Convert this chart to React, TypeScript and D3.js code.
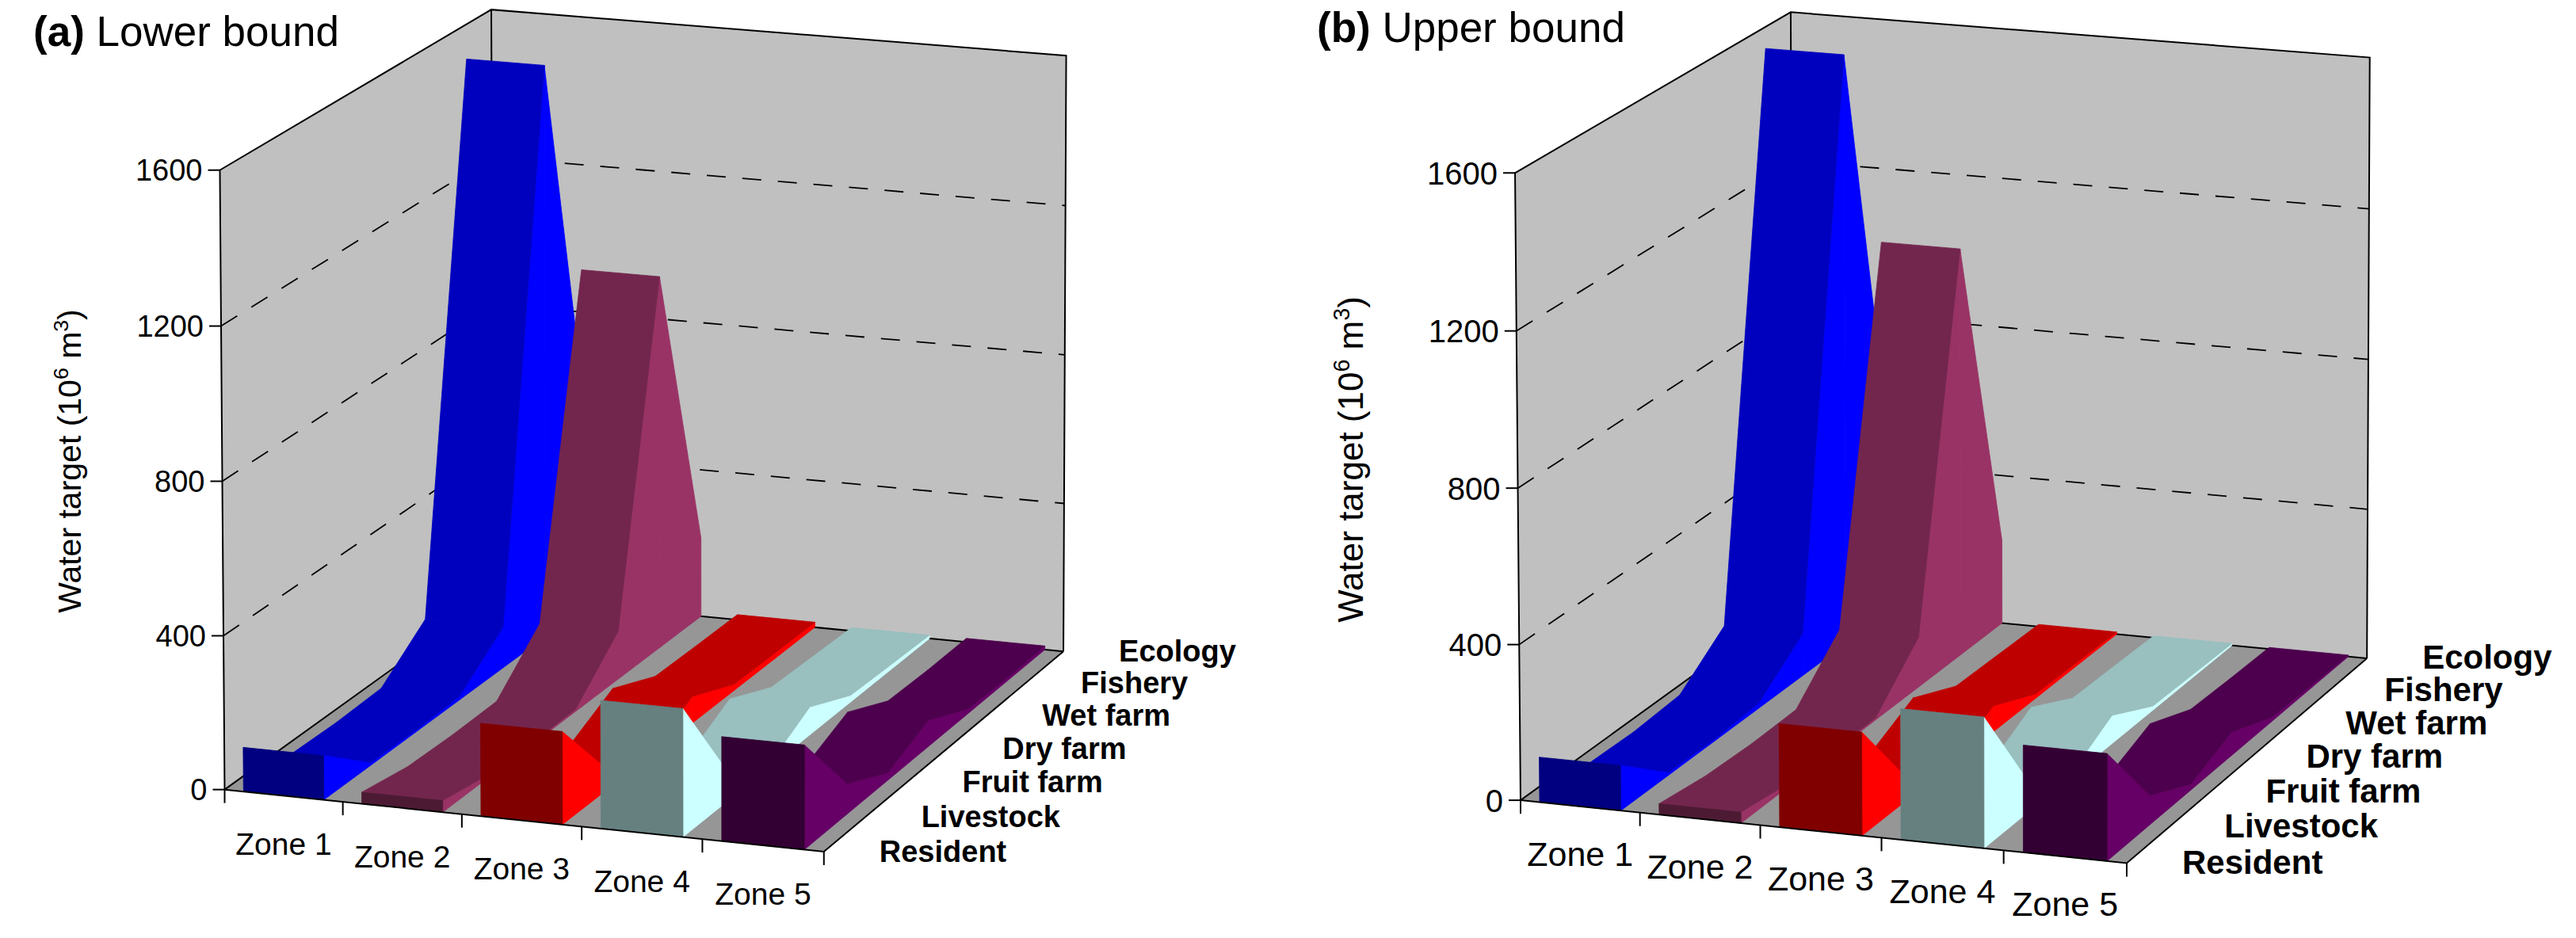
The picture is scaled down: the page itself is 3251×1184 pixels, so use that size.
import React, { useEffect, useMemo } from "react";
import * as d3 from "d3";

const zones = ["Zone 1", "Zone 2", "Zone 3", "Zone 4", "Zone 5"];
const sectors = ["Resident", "Livestock", "Fruit farm", "Dry farm", "Wet farm", "Fishery", "Ecology"];
const yTicks = [0, 400, 800, 1200, 1600];
const gridValues = [400, 800, 1200];

// water targets, one array per zone, sectors from Resident (front) to Ecology (back)
const lowerZone1 = [115, 8, 5, 10, 110, 1540, 480];
const lowerZone2 = [30, 8, 4, 6, 128, 1000, 214];
const lowerZone3 = [240, 55, 8, 71, 17, 15, 14];
const lowerZone4 = [330, 85, 8, 74, 18, 13, 9];
const lowerZone5 = [268, 80, 20, 70, 13, 9, 10];

const upperZone1 = [116, 8, 5, 14, 112, 1575, 500];
const upperZone2 = [28, 10, 4, 6, 132, 1085, 224];
const upperZone3 = [264, 58, 8, 68, 12, 9, 6];
const upperZone4 = [333, 83, 8, 74, 11, 8, 5];
const upperZone5 = [272, 76, 16, 62, 12, 7, 4];

const zoneColors = ["#0000ff", "#993366", "#ff0000", "#ccffff", "#660066"];

const W = 3251;
const H = 1184;
const FONT = "'Liberation Sans', Arial, Helvetica, sans-serif";
const FLOOR = "#969696";
const WALL = "#c0c0c0";

// box frame in normalized world coords (x: zones, y: value, z: depth) -> screen px
type Anchor = [number, number, number, number, number];
const leftFrame: Anchor[] = [
  [0, 0, 0, 283, 993], [1, 0, 0, 1042, 1078], [0, 0, 1, 622, 757], [1, 0, 1, 1341, 821],
  [0, 1, 0, 277, 216], [0, 1, 1, 622, 11], [1, 1, 1, 1344, 70],
  [0, 0.25, 0, 282, 803], [0, 0.5, 0, 280, 608], [0, 0.75, 0, 278, 413],
  [0.2, 0, 0, 432, 1010], [0.4, 0, 0, 583, 1027], [0.6, 0, 0, 735, 1043],
  [1, 0.25, 1, 1343, 635], [0, 0.75, 1, 622, 197],
];
const rightFrame: Anchor[] = [
  [0, 0, 0, 1920, 1008], [1, 0, 0, 2685, 1090], [0, 0, 1, 2262, 764], [1, 0, 1, 2987, 829],
  [0, 1, 0, 1911, 220], [0, 1, 1, 2262, 14], [1, 1, 1, 2990, 73],
  [0, 0.25, 0, 1918, 813], [0, 0.75, 0, 1913, 417],
  [0.2, 0, 0, 2069, 1025], [0.4, 0, 0, 2221, 1042], [0.8, 0, 0, 2529, 1075],
];

const xBand = d3.scaleBand<string>().domain(zones).range([0, 1]).paddingInner(0.32).paddingOuter(0.16);
const xEdge = d3.scaleLinear().domain([0, zones.length]).range([0, 1]);
const zPoint = d3.scalePoint<string>().domain(sectors).range([0, 1]);
const yScale = d3.scaleLinear().domain([0, 1600]).range([0, 1]);

function solve(A: number[][], b: number[]): number[] {
  const n = b.length;
  const m = A.map((r, i) => [...r, b[i]]);
  for (let c = 0; c < n; c++) {
    let piv = c;
    for (let r = c + 1; r < n; r++) if (Math.abs(m[r][c]) > Math.abs(m[piv][c])) piv = r;
    [m[c], m[piv]] = [m[piv], m[c]];
    for (let r = c + 1; r < n; r++) {
      const f = m[r][c] / m[c][c];
      for (let k = c; k <= n; k++) m[r][k] -= f * m[c][k];
    }
  }
  const x = new Array(n).fill(0);
  for (let r = n - 1; r >= 0; r--) {
    let s = m[r][n];
    for (let k = r + 1; k < n; k++) s -= m[r][k] * x[k];
    x[r] = s / m[r][r];
  }
  return x;
}

// perspective camera fitted to the frame corners (DLT, least squares)
function fitCamera(anchors: Anchor[]) {
  const rows: number[][] = [];
  const rhs: number[] = [];
  for (const [X, Y, Z, u0, v0] of anchors) {
    const u = u0 / 1000, v = v0 / 1000;
    rows.push([X, Y, Z, 1, 0, 0, 0, 0, -u * X, -u * Y, -u * Z]);
    rhs.push(u);
    rows.push([0, 0, 0, 0, X, Y, Z, 1, -v * X, -v * Y, -v * Z]);
    rhs.push(v);
  }
  const AtA = d3.range(11).map((i) => d3.range(11).map((j) => d3.sum(rows, (r) => r[i] * r[j])));
  const Atb = d3.range(11).map((i) => d3.sum(rows, (r, k) => r[i] * rhs[k]));
  const p = solve(AtA, Atb);
  const project = (X: number, Y: number, Z: number): [number, number] => {
    const w = p[8] * X + p[9] * Y + p[10] * Z + 1;
    return [
      (1000 * (p[0] * X + p[1] * Y + p[2] * Z + p[3])) / w,
      (1000 * (p[4] * X + p[5] * Y + p[6] * Z + p[7])) / w,
    ];
  };
  const eye = solve(
    [[p[0], p[1], p[2]], [p[4], p[5], p[6]], [p[8], p[9], p[10]]],
    [-p[3], -p[7], -1]
  );
  return { project, eye };
}

type V3 = [number, number, number];
const sub = (a: V3, b: V3): V3 => [a[0] - b[0], a[1] - b[1], a[2] - b[2]];
const cross = (a: V3, b: V3): V3 => [a[1] * b[2] - a[2] * b[1], a[2] * b[0] - a[0] * b[2], a[0] * b[1] - a[1] * b[0]];
const dot = (a: V3, b: V3) => a[0] * b[0] + a[1] * b[1] + a[2] * b[2];

function shade(color: string, k: number) {
  const c = d3.rgb(color);
  return d3.rgb(Math.round(c.r * k), Math.round(c.g * k), Math.round(c.b * k)).formatHex();
}

interface Fonts {
  tick: number;
  zone: number;
  sector: number;
  axis: number;
}

interface PanelProps {
  series: number[][];
  frame: Anchor[];
  tag: string;
  title: string;
  titleX: number;
  titleY: number;
  yTitleX: number;
  yTitleY: number;
  fonts: Fonts;
}

function Panel({ series, frame, tag, title, titleX, titleY, yTitleX, yTitleY, fonts }: PanelProps) {
  const cam = useMemo(() => fitCamera(frame), [frame]);
  const P = (x: number, y: number, z: number) => cam.project(x, y, z);
  const path = (pts: V3[]) => "M" + pts.map((q) => P(q[0], q[1], q[2]).map((n) => n.toFixed(2)).join(",")).join("L") + "Z";
  const line = (pts: V3[]) => "M" + pts.map((q) => P(q[0], q[1], q[2]).map((n) => n.toFixed(2)).join(",")).join("L");

  // ribbon faces, drawn zone by zone from left to right, back to front
  const faces: { d: string; fill: string }[] = [];
  const add = (pts: V3[], fill: string) => {
    const n = cross(sub(pts[1], pts[0]), sub(pts[3], pts[0]));
    if (dot(n, sub(cam.eye as V3, pts[0])) > 0) faces.push({ d: path(pts), fill });
  };
  series.forEach((vals, i) => {
    const x1 = xBand(zones[i])!;
    const x2 = x1 + xBand.bandwidth();
    const col = zoneColors[i];
    const side = shade(col, 1), top = shade(col, 0.75), front = shade(col, 0.5);
    const z = sectors.map((s) => zPoint(s)!);
    const h = vals.map((v) => yScale(v));
    const last = z.length - 1;
    add([[x1, 0, z[last]], [x2, 0, z[last]], [x2, h[last], z[last]], [x1, h[last], z[last]]], front);
    for (let k = last - 1; k >= 0; k--) {
      const za = z[k], zb = z[k + 1], ha = h[k], hb = h[k + 1];
      add([[x1, 0, za], [x1, 0, zb], [x1, hb, zb], [x1, ha, za]], side);
      add([[x2, 0, za], [x2, ha, za], [x2, hb, zb], [x2, 0, zb]], side);
      add([[x1, ha, za], [x1, hb, zb], [x2, hb, zb], [x2, ha, za]], top);
    }
    add([[x1, 0, 0], [x1, h[0], 0], [x2, h[0], 0], [x2, 0, 0]], front);
  });

  const y1 = yScale(1600);
  const frameLines: V3[][] = [
    [[0, 0, 0], [0, y1, 0], [0, y1, 1], [1, y1, 1], [1, 0, 1]],
    [[0, 0, 1], [0, y1, 1]],
    [[0, 0, 0], [0, 0, 1], [1, 0, 1]],
  ];
  const sup = fonts.axis * 0.38;

  return (
    <g fontFamily={FONT}>
      <path d={path([[0, 0, 0], [1, 0, 0], [1, 0, 1], [0, 0, 1]])} fill={FLOOR} />
      <path d={path([[0, 0, 0], [0, 0, 1], [0, y1, 1], [0, y1, 0]])} fill={WALL} />
      <path d={path([[0, 0, 1], [1, 0, 1], [1, y1, 1], [0, y1, 1]])} fill={WALL} />
      {gridValues.map((v) => (
        <path key={v} d={line([[0, yScale(v), 0], [0, yScale(v), 1], [1, yScale(v), 1]])}
          fill="none" stroke="#000" strokeWidth={1.8} strokeDasharray="24 21" />
      ))}
      {frameLines.map((l, i) => (
        <path key={i} d={line(l)} fill="none" stroke="#000" strokeWidth={2} />
      ))}
      {faces.map((f, i) => (
        <path key={i} d={f.d} fill={f.fill} stroke={f.fill} strokeWidth={0.8} strokeLinejoin="round" />
      ))}
      <path d={line([[0, 0, 0], [1, 0, 0], [1, 0, 1]])} fill="none" stroke="#000" strokeWidth={2} />
      {yTicks.map((v) => {
        const [px, py] = P(0, yScale(v), 0);
        return (
          <g key={v}>
            <line x1={px - 15} x2={px} y1={py} y2={py} stroke="#000" strokeWidth={2} />
            <text x={px - 22} y={py + fonts.tick * 0.36} textAnchor="end" fontSize={fonts.tick}>{v}</text>
          </g>
        );
      })}
      {d3.range(zones.length + 1).map((k) => {
        const [px, py] = P(xEdge(k), 0, 0);
        return <line key={k} x1={px} x2={px} y1={py} y2={py + 17} stroke="#000" strokeWidth={2} />;
      })}
      {zones.map((zn) => {
        const [px, py] = P(xBand(zn)! + xBand.bandwidth() / 2, 0, 0);
        return (
          <text key={zn} x={px} y={py + 75} textAnchor="middle" fontSize={fonts.zone}>{zn}</text>
        );
      })}
      {sectors.map((s) => {
        const [px, py] = P(1, 0, zPoint(s)!);
        return (
          <text key={s} x={px + 70} y={py + 13} fontSize={fonts.sector} fontWeight="bold">{s}</text>
        );
      })}
      <text x={titleX} y={titleY} fontSize={53}>
        <tspan fontWeight="bold">{tag}</tspan>
        {" " + title}
      </text>
      <text transform={`translate(${yTitleX},${yTitleY}) rotate(-90)`} textAnchor="middle" fontSize={fonts.axis}>
        Water target (10<tspan dy={-sup} fontSize={fonts.axis * 0.65}>6</tspan>
        <tspan dy={sup}> m</tspan>
        <tspan dy={-sup} fontSize={fonts.axis * 0.65}>3</tspan>
        <tspan dy={sup}>)</tspan>
      </text>
    </g>
  );
}

export default function App() {
  useEffect(() => {
    document.body.style.margin = "0";
  }, []);
  const lower = [lowerZone1, lowerZone2, lowerZone3, lowerZone4, lowerZone5];
  const upper = [upperZone1, upperZone2, upperZone3, upperZone4, upperZone5];
  return (
    <svg width={W} height={H} viewBox={`0 0 ${W} ${H}`} style={{ display: "block", background: "#fff" }}>
      <Panel series={lower} frame={leftFrame} tag="(a)" title="Lower bound"
        titleX={42} titleY={58} yTitleX={102} yTitleY={582}
        fonts={{ tick: 38, zone: 39, sector: 38, axis: 41 }} />
      <Panel series={upper} frame={rightFrame} tag="(b)" title="Upper bound"
        titleX={1662} titleY={53} yTitleX={1720} yTitleY={580}
        fonts={{ tick: 40, zone: 43, sector: 42, axis: 44 }} />
    </svg>
  );
}
